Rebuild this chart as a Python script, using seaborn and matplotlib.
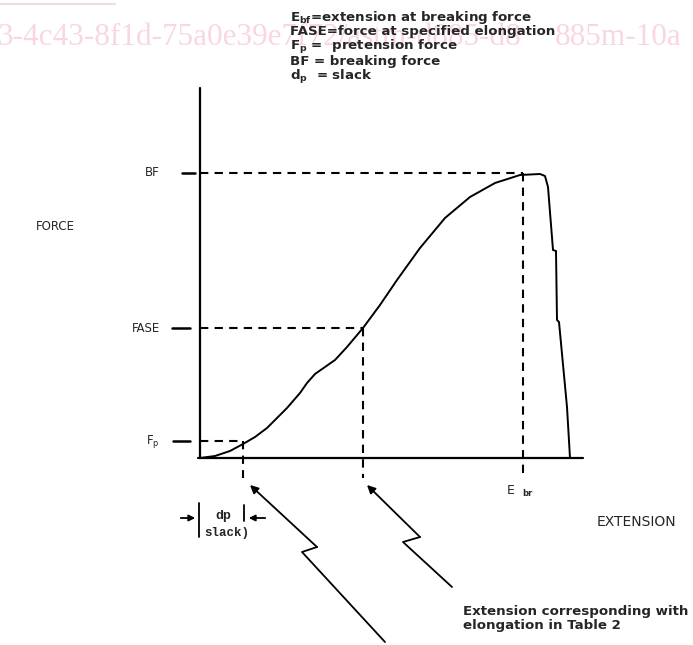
import seaborn as sns
import pandas as pd
import matplotlib.pyplot as plt

# load-extension curve (arbitrary units: extension, force)
extension = [0, 15, 30, 43, 55, 67, 87, 100, 107, 115, 125, 135, 147, 163, 180, 197,
             220, 245, 270, 295, 320, 340, 345, 348, 353, 356, 357, 359, 367, 370]
force = [0, 2, 7, 14, 21, 30, 50, 65, 75, 84, 91, 98, 111, 130, 153, 178,
         210, 240, 261, 275, 283, 284, 282, 271, 208, 207, 138, 136, 51, 0]

# reference levels
level_names = ["BF", "FASE", "F$_p$"]
level_force = [285, 130, 17]
level_ext = [323, 163, 43]

legend_lines = [
    "E$_{bf}$=extension at breaking force",
    "FASE=force at specified elongation",
    "F$_p$ =  pretension force",
    "BF = breaking force",
    "d$_p$  = slack",
]

df = pd.DataFrame({"extension": extension, "force": force})

sns.set_style("white")
plt.rcParams["mathtext.default"] = "regular"
fig = plt.figure(figsize=(6.93, 6.45), dpi=100)
ax = fig.add_axes([0, 0, 1, 1])
ax.set_xlim(-200, 493)
ax.set_ylim(-187, 458)
ax.axis("off")

# watermark
pink = "#f8d7e0"
ax.text(-203, 413, "3-4c43-8f1d-75a0e39e7f72/astm-d885-d8", color=pink,
        fontsize=22.5, family="Liberation Serif", va="baseline", ha="left", zorder=0)
ax.text(481, 413, "885m-10a", color=pink,
        fontsize=22.5, family="Liberation Serif", va="baseline", ha="right", zorder=0)
ax.text(-85, 459, "d885m-10a", color=pink, fontsize=14, family="Liberation Serif",
        ha="right", va="baseline", zorder=0)
ax.plot([-200, -85], [454, 454], color=pink, lw=1.5, zorder=0)

# axes lines
ax.plot([-2, 383], [0, 0], color="black", lw=1.6)
ax.plot([0, 0], [0, 370], color="black", lw=1.6)

sns.lineplot(data=df, x="extension", y="force", sort=False, estimator=None,
             color="black", lw=1.4, ax=ax)

dash = (0, (4, 3))
label_x = [-48, -40, -40]
tick_span = [(-18, -5), (-28, -10), (-27, -10)]
for name, f, e, lx, (t0, t1) in zip(level_names, level_force, level_ext, label_x, tick_span):
    ax.plot([0, e], [f, f], color="black", lw=1.5, ls=dash)
    ax.plot([e, e], [f, -20], color="black", lw=1.5, ls=dash)
    ax.plot([t0, t1], [f, f], color="black", lw=1.8)
    ax.text(lx, f, name, ha="right" if name != "BF" else "center", va="center",
            fontsize=8.5, family="DejaVu Sans")

ax.text(-145, 231, "FORCE", ha="center", va="center", fontsize=8.5, family="DejaVu Sans")
ax.text(436, -64, "EXTENSION", ha="center", va="center", fontsize=10, family="DejaVu Sans")
ax.text(307, -32, "E", ha="left", va="center", fontsize=9, family="DejaVu Sans")
ax.text(322, -35, "br", ha="left", va="center", fontsize=6, family="DejaVu Sans",
        weight="bold")

# legend block
for i, line in enumerate(legend_lines):
    ax.text(90, 441 - i * 15, line, ha="left", va="center", fontsize=9.6,
            family="DejaVu Sans", weight="bold")

# slack marker
ax.plot([-1, -1], [-45, -79], color="black", lw=1.3)
ax.plot([44, 44], [-47, -63], color="black", lw=1.3)
ax.annotate("", xy=(-2, -60), xytext=(-22, -60),
            arrowprops=dict(arrowstyle="-|>", color="black", lw=1.3, mutation_scale=9))
ax.annotate("", xy=(46, -60), xytext=(68, -60),
            arrowprops=dict(arrowstyle="-|>", color="black", lw=1.3, mutation_scale=9))
ax.text(23, -58, "dp", ha="center", va="center", fontsize=9.5, family="Liberation Mono",
        weight="bold")
ax.text(4, -75, "slack)", ha="left", va="center", fontsize=9,
        family="Liberation Mono", weight="bold")

# zigzag pointers
for tip, bend1, bend2, end in [((50, -27), (117, -89), (102, -94), (185, -184)),
                               ((167, -27), (220, -79), (203, -84), (252, -129))]:
    ax.plot([bend1[0], bend2[0], end[0]], [bend1[1], bend2[1], end[1]],
            color="black", lw=1.3)
    ax.annotate("", xy=tip, xytext=bend1,
                arrowprops=dict(arrowstyle="-|>", color="black", lw=1.3,
                                mutation_scale=12, shrinkA=0, shrinkB=0))

ax.text(263, -154, "Extension corresponding with", ha="left", va="center",
        fontsize=9.6, family="DejaVu Sans", weight="bold")
ax.text(263, -168, "elongation in Table 2", ha="left", va="center",
        fontsize=9.6, family="DejaVu Sans", weight="bold")

fig.savefig("out.png", dpi=100)
